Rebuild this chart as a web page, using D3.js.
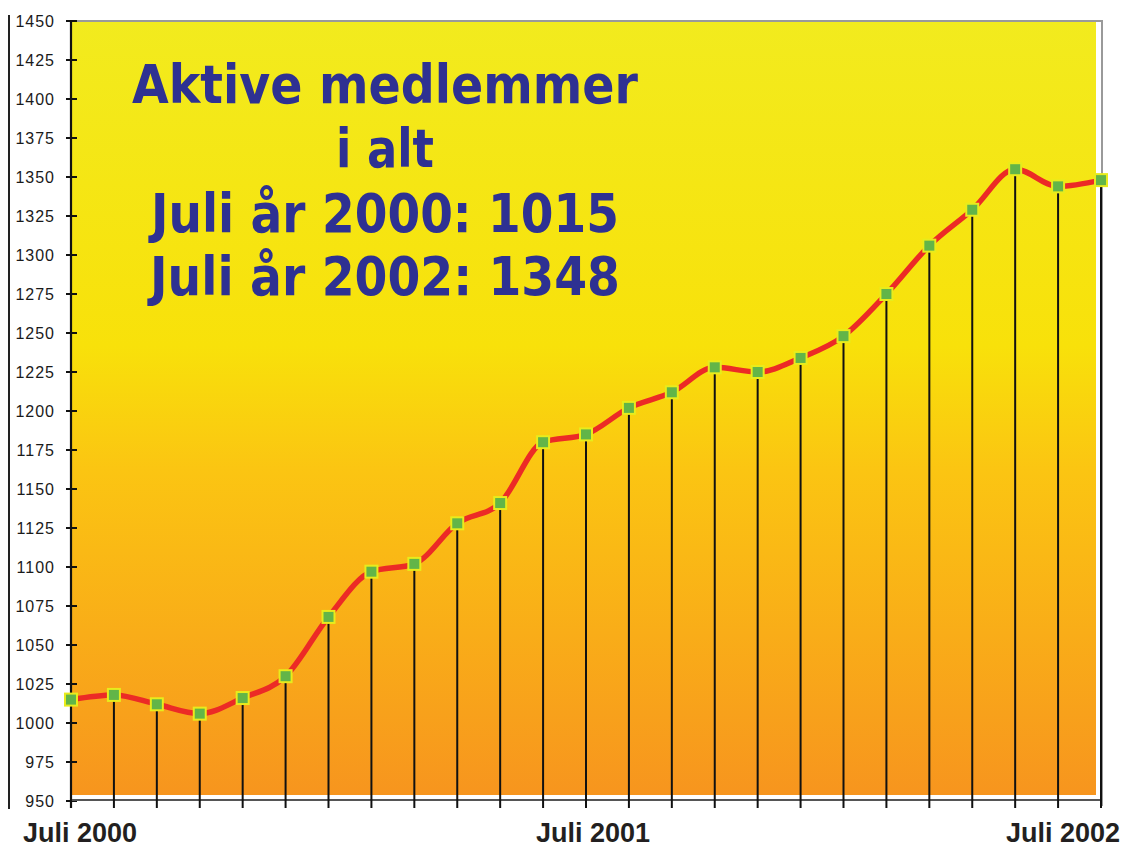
<!DOCTYPE html>
<html>
<head>
<meta charset="utf-8">
<script src="https://cdn.jsdelivr.net/npm/d3@7"></script>
<style>
  body { margin: 0; background: #fff; }
  svg { display: block; }
</style>
</head>
<body>
<svg id="chart" width="1127" height="847"></svg>
<script>
// monthly counts, Juli 2000 .. Juli 2002
var months = d3.range(0, 25);
var members = [1015, 1018, 1012, 1006, 1016, 1030, 1068, 1097, 1102, 1128, 1141, 1180, 1185,
               1202, 1212, 1228, 1225, 1234, 1248, 1275, 1306, 1329, 1355, 1344, 1348];
var yTicks = d3.range(950, 1451, 25);
var xLabels = [{ i: 0, text: "Juli 2000", dx: 9 },
               { i: 12, text: "Juli 2001", dx: 7 },
               { i: 24, text: "Juli 2002", dx: -38 }];
var titleLines = ["Aktive medlemmer", "i alt", "Juli år 2000: 1015", "Juli år 2002: 1348"];

var svg = d3.select("#chart");

var x = d3.scaleLinear().domain([0, 24]).range([71, 1101]);
var y = d3.scaleLinear().domain([950, 1450]).range([801, 21]);

var defs = svg.append("defs");
var grad = defs.append("linearGradient")
  .attr("id", "bg").attr("x1", 0).attr("y1", 0).attr("x2", 0).attr("y2", 1);
grad.append("stop").attr("offset", 0).attr("stop-color", "#f2eb1e");
grad.append("stop").attr("offset", 0.42).attr("stop-color", "#f8e10a");
grad.append("stop").attr("offset", 0.58).attr("stop-color", "#fbc512");
grad.append("stop").attr("offset", 1).attr("stop-color", "#f7951e");

// plot background
svg.append("rect")
  .attr("x", 70).attr("y", 20)
  .attr("width", 1026).attr("height", 775)
  .attr("fill", "url(#bg)");

// frame top + right
svg.append("path")
  .attr("d", "M71,21H1102V806")
  .attr("fill", "none")
  .attr("stroke", "#9a9a9a")
  .attr("stroke-width", 2);

// outer left rule
svg.append("line")
  .attr("x1", 9).attr("y1", 15).attr("x2", 9).attr("y2", 809)
  .attr("stroke", "#222").attr("stroke-width", 2);

// y axis
svg.append("line")
  .attr("x1", 71).attr("y1", 20).attr("x2", 71).attr("y2", 808)
  .attr("stroke", "#111").attr("stroke-width", 2.2);

svg.selectAll(".ytick").data(yTicks).enter().append("line")
  .attr("x1", 66).attr("x2", 77)
  .attr("y1", function (d) { return y(d); })
  .attr("y2", function (d) { return y(d); })
  .attr("stroke", "#111").attr("stroke-width", 2);

svg.selectAll(".ylab").data(yTicks).enter().append("text")
  .attr("x", 55)
  .attr("y", function (d) { return y(d); })
  .attr("dy", "0.36em")
  .attr("text-anchor", "end")
  .style("font-family", "Liberation Sans, Arial, sans-serif")
  .style("font-size", "16px")
  .style("letter-spacing", "1px")
  .attr("fill", "#1a1a1a")
  .text(function (d) { return d; });

// x axis
svg.append("line")
  .attr("x1", 71).attr("y1", 800).attr("x2", 1102).attr("y2", 800)
  .attr("stroke", "#555").attr("stroke-width", 2.2);

// drop lines down to the axis (they double as ticks)
svg.selectAll(".drop").data(months).enter().append("line")
  .attr("x1", function (d) { return x(d); })
  .attr("x2", function (d) { return x(d); })
  .attr("y1", function (d) { return y(members[d]); })
  .attr("y2", 808)
  .attr("stroke", "#111").attr("stroke-width", 2);

svg.selectAll(".xlab").data(xLabels).enter().append("text")
  .attr("x", function (d) { return x(d.i) + d.dx; })
  .attr("y", 842)
  .attr("text-anchor", "middle")
  .style("font-family", "Liberation Sans, Arial, sans-serif")
  .style("font-weight", "bold")
  .style("font-size", "27px")
  .attr("fill", "#231f20")
  .text(function (d) { return d.text; });

// data line
var line = d3.line()
  .x(function (d) { return x(d); })
  .y(function (d) { return y(members[d]); })
  .curve(d3.curveMonotoneX);

svg.append("path")
  .attr("d", line(months))
  .attr("fill", "none")
  .attr("stroke", "#ec2a26")
  .attr("stroke-width", 5.5);

// markers
svg.selectAll(".mark").data(months).enter().append("rect")
  .attr("x", function (d) { return x(d) - 6; })
  .attr("y", function (d) { return y(members[d]) - 6; })
  .attr("width", 12).attr("height", 12)
  .attr("fill", "#62b548")
  .attr("stroke", "#e8ec1c")
  .attr("stroke-width", 2);

// title block
var titleY = [103, 167, 232, 295];
var titleW = [506, 98, 468, 470];
svg.selectAll(".title").data(titleLines).enter().append("text")
  .attr("x", 385)
  .attr("y", function (d, i) { return titleY[i]; })
  .attr("text-anchor", "middle")
  .attr("textLength", function (d, i) { return titleW[i]; })
  .attr("lengthAdjust", "spacingAndGlyphs")
  .style("font-family", "DejaVu Sans, Verdana, sans-serif")
  .style("font-weight", "bold")
  .style("font-size", "54px")
  .attr("fill", "#2e3192")
  .text(function (d) { return d; });
</script>
</body>
</html>
